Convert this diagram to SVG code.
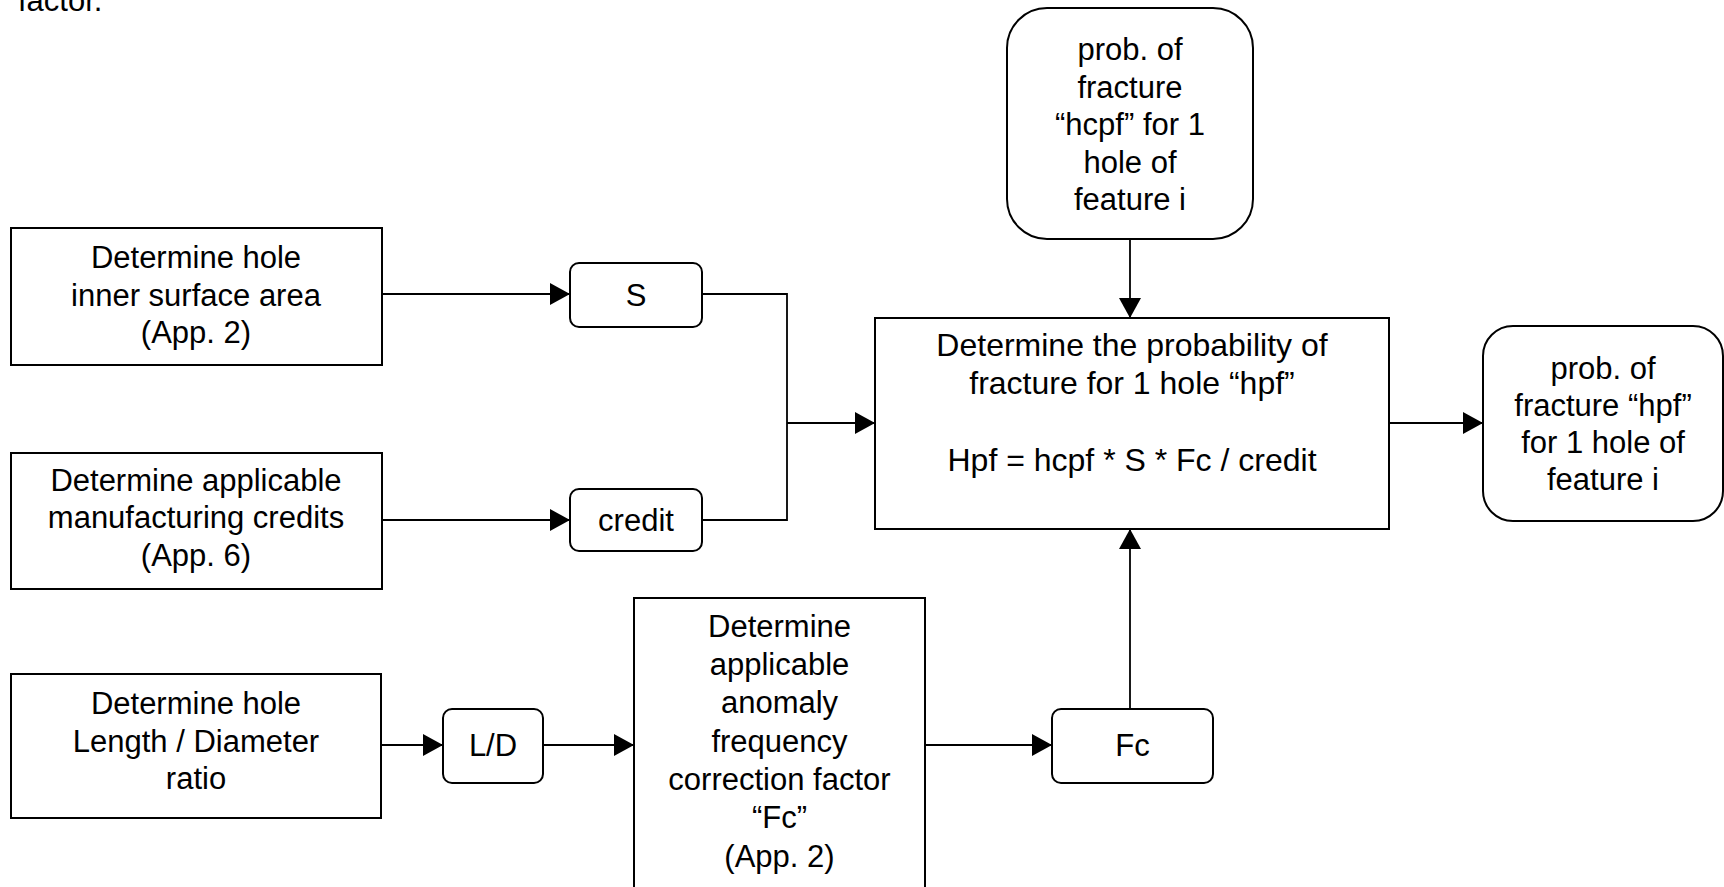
<svg xmlns="http://www.w3.org/2000/svg" width="1724" height="887" viewBox="0 0 1724 887">
<defs>
<style>
.box{fill:#fff;stroke:#000;stroke-width:2}
.t{font-family:"Liberation Sans",Arial,sans-serif;font-size:31px;fill:#000;text-anchor:middle}
.big{font-size:32px}
.c{fill:none;stroke:#000;stroke-width:1.8}
</style>
<marker id="ah" markerWidth="20" markerHeight="22" refX="20" refY="11" orient="auto" markerUnits="userSpaceOnUse">
<path d="M0,0 L20,11 L0,22 Z" fill="#000"/>
</marker>
</defs>
<rect width="1724" height="887" fill="#fff"/>
<text class="t" x="18" y="11" style="text-anchor:start">factor.</text>

<g id="connectors">
<path class="c" d="M382,294 H570" marker-end="url(#ah)"/>
<path class="c" d="M382,520 H570" marker-end="url(#ah)"/>
<path class="c" d="M702,294 H787 V520 H702"/>
<path class="c" d="M787,423 H875" marker-end="url(#ah)"/>
<path class="c" d="M1130,239 V318" marker-end="url(#ah)"/>
<path class="c" d="M1388,423 H1483" marker-end="url(#ah)"/>
<path class="c" d="M381,745 H443" marker-end="url(#ah)"/>
<path class="c" d="M543,745 H634" marker-end="url(#ah)"/>
<path class="c" d="M925,745 H1052" marker-end="url(#ah)"/>
<path class="c" d="M1130,709 V529" marker-end="url(#ah)"/>
</g>

<g id="n_area">
<rect class="box" x="11" y="228" width="371" height="137"/>
<text class="t" x="196" y="268">Determine hole</text>
<text class="t" x="196" y="306">inner surface area</text>
<text class="t" x="196" y="343">(App. 2)</text>
</g>

<g id="n_credits">
<rect class="box" x="11" y="453" width="371" height="136"/>
<text class="t" x="196" y="490.5">Determine applicable</text>
<text class="t" x="196" y="528">manufacturing credits</text>
<text class="t" x="196" y="565.5">(App. 6)</text>
</g>

<g id="n_ld_src">
<rect class="box" x="11" y="674" width="370" height="144"/>
<text class="t" x="196" y="714">Determine hole</text>
<text class="t" x="196" y="751.5">Length / Diameter</text>
<text class="t" x="196" y="789">ratio</text>
</g>

<g id="n_S">
<rect class="box" x="570" y="263" width="132" height="64" rx="9"/>
<text class="t" x="636" y="306">S</text>
</g>

<g id="n_credit">
<rect class="box" x="570" y="489" width="132" height="62" rx="9"/>
<text class="t" x="636" y="531">credit</text>
</g>

<g id="n_LD">
<rect class="box" x="443" y="709" width="100" height="74" rx="9"/>
<text class="t" x="493" y="756">L/D</text>
</g>

<g id="n_fcbox">
<rect class="box" x="634" y="598" width="291" height="310"/>
<text class="t" x="779.5" y="637">Determine</text>
<text class="t" x="779.5" y="675">applicable</text>
<text class="t" x="779.5" y="713">anomaly</text>
<text class="t" x="779.5" y="752">frequency</text>
<text class="t" x="779.5" y="790">correction factor</text>
<text class="t" x="779.5" y="828">“Fc”</text>
<text class="t" x="779.5" y="867">(App. 2)</text>
</g>

<g id="n_Fc">
<rect class="box" x="1052" y="709" width="161" height="74" rx="9"/>
<text class="t" x="1132.5" y="756">Fc</text>
</g>

<g id="n_hcpf">
<rect class="box" x="1007" y="8" width="246" height="231" rx="40"/>
<text class="t" x="1130" y="60">prob. of</text>
<text class="t" x="1130" y="97.5">fracture</text>
<text class="t" x="1130" y="135">“hcpf” for 1</text>
<text class="t" x="1130" y="172.5">hole of</text>
<text class="t" x="1130" y="210">feature i</text>
</g>

<g id="n_main">
<rect class="box" x="875" y="318" width="514" height="211"/>
<text class="t big" x="1132" y="356">Determine the probability of</text>
<text class="t big" x="1132" y="394">fracture for 1 hole “hpf”</text>
<text class="t big" x="1132" y="471">Hpf = hcpf * S * Fc / credit</text>
</g>

<g id="n_out">
<rect class="box" x="1483" y="326" width="240" height="195" rx="30"/>
<text class="t" x="1603" y="379">prob. of</text>
<text class="t" x="1603" y="416">fracture “hpf”</text>
<text class="t" x="1603" y="453">for 1 hole of</text>
<text class="t" x="1603" y="490">feature i</text>
</g>
</svg>
